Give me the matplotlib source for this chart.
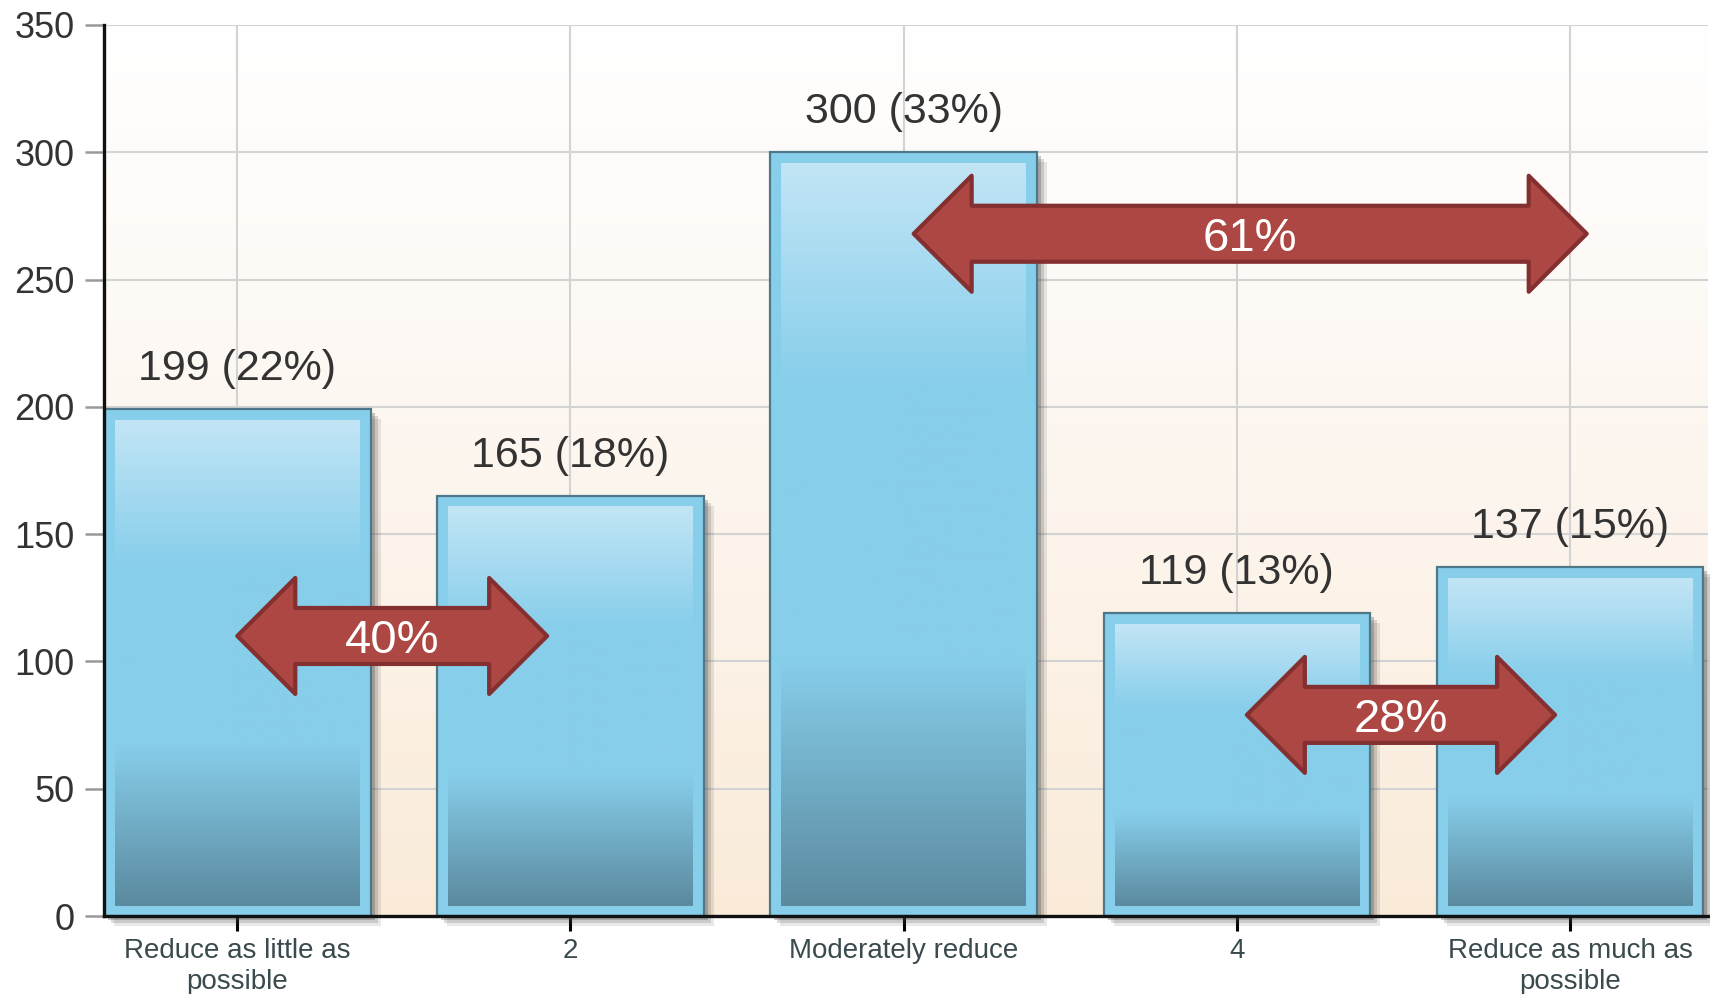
import numpy as np
import matplotlib
matplotlib.use("Agg")
import matplotlib.pyplot as plt
from matplotlib.patches import Rectangle, Polygon
from matplotlib.colors import LinearSegmentedColormap

plt.rcParams['font.family'] = ['Liberation Sans', 'DejaVu Sans']

categories = ["Reduce as little as\npossible", "2", "Moderately reduce", "4",
              "Reduce as much as\npossible"]
counts = [199, 165, 300, 119, 137]
percents = [22, 18, 33, 13, 15]

# grouped share arrows: start / end category position, height, label
arrow_start = [0.0, 2.03, 3.03]
arrow_end = [0.93, 4.05, 3.955]
arrow_level = [110, 268, 79]
arrow_text = ["40%", "61%", "28%"]

W, H = 1710, 994
fig = plt.figure(figsize=(W / 100, H / 100), dpi=100)
ax = fig.add_axes([104 / W, 1 - 916 / H, 1604 / W, 891 / H])

x = np.arange(len(categories))
xlim = (-0.4, 4.414)
ylim = (0, 350)

# pixel -> data units
ux = (xlim[1] - xlim[0]) / 1604
uy = (ylim[1] - ylim[0]) / 891

# background gradient
bg = LinearSegmentedColormap.from_list('bg', ['#faebd9', '#fdf6ef', '#ffffff'])
ax.imshow(np.linspace(0, 1, 256).reshape(-1, 1), cmap=bg, origin='lower',
          extent=[xlim[0], xlim[1], ylim[0], ylim[1]], aspect='auto', zorder=0)

inner = LinearSegmentedColormap.from_list(
    'inner', [(0, '#5b8a9f'), (0.33, '#87ceeb'), (0.70, '#87ceeb'), (1, '#c2e5f5')])

bw = 0.8
for xi, c, p in zip(x, counts, percents):
    # soft shadow
    for k, a in enumerate([0.12, 0.18, 0.28]):
        off = 10 - 3 * k
        ax.add_patch(Rectangle((xi - bw / 2 + off * ux, -off * uy), bw, c,
                               facecolor='#444444', alpha=a, edgecolor='none',
                               zorder=1, clip_on=False))
    ax.add_patch(Rectangle((xi - bw / 2, 0), bw, c, facecolor='#87ceeb',
                           edgecolor='#4e7888', linewidth=1.6, zorder=2))
    ax.imshow(np.linspace(0, 1, 256).reshape(-1, 1), cmap=inner, origin='lower',
              extent=[xi - bw / 2 + 11 * ux, xi + bw / 2 - 11 * ux, 10 * uy, c - 11 * uy],
              aspect='auto', zorder=2.1)
    ax.annotate(f"{c} ({p}%)", (xi, c),
                xytext=(0, 21), textcoords='offset points', ha='center',
                va='baseline', fontsize=31, color='#333333', zorder=4)

# double-headed arrows
hl = 58 * ux
hw = 58 * uy
sw = 28 * uy
for x0, x1, y, t in zip(arrow_start, arrow_end, arrow_level, arrow_text):
    verts = [(x0, y), (x0 + hl, y + hw), (x0 + hl, y + sw), (x1 - hl, y + sw),
             (x1 - hl, y + hw), (x1, y), (x1 - hl, y - hw), (x1 - hl, y - sw),
             (x0 + hl, y - sw), (x0 + hl, y - hw)]
    ax.add_patch(Polygon(verts, closed=True, facecolor='#ad4743', edgecolor='#843030',
                         linewidth=3, joinstyle='round', zorder=5))
    ax.text((x0 + x1) / 2, y, t, ha='center', va='center_baseline', fontsize=34,
            color='white', zorder=6)

ax.set_xlim(*xlim)
ax.set_ylim(*ylim)
ax.set_yticks(np.arange(0, 351, 50))
ax.set_xticks(x)
ax.set_xticklabels(categories, fontsize=20, color='#3a4a4e', linespacing=1.25)
ax.tick_params(axis='y', labelsize=26, labelcolor='#333333', length=14, width=1.8,
               color='#999999', pad=7)
ax.tick_params(axis='x', length=11, width=2.2, color='black', pad=5)

ax.set_axisbelow(True)
ax.grid(True, color='#d3d3d3', linewidth=1.5)
for s in ['top', 'right']:
    ax.spines[s].set_visible(False)
for s in ['left', 'bottom']:
    ax.spines[s].set_linewidth(2.4)
    ax.spines[s].set_color('#111111')
    ax.spines[s].set_zorder(7)

fig.savefig('out.png', dpi=100)
